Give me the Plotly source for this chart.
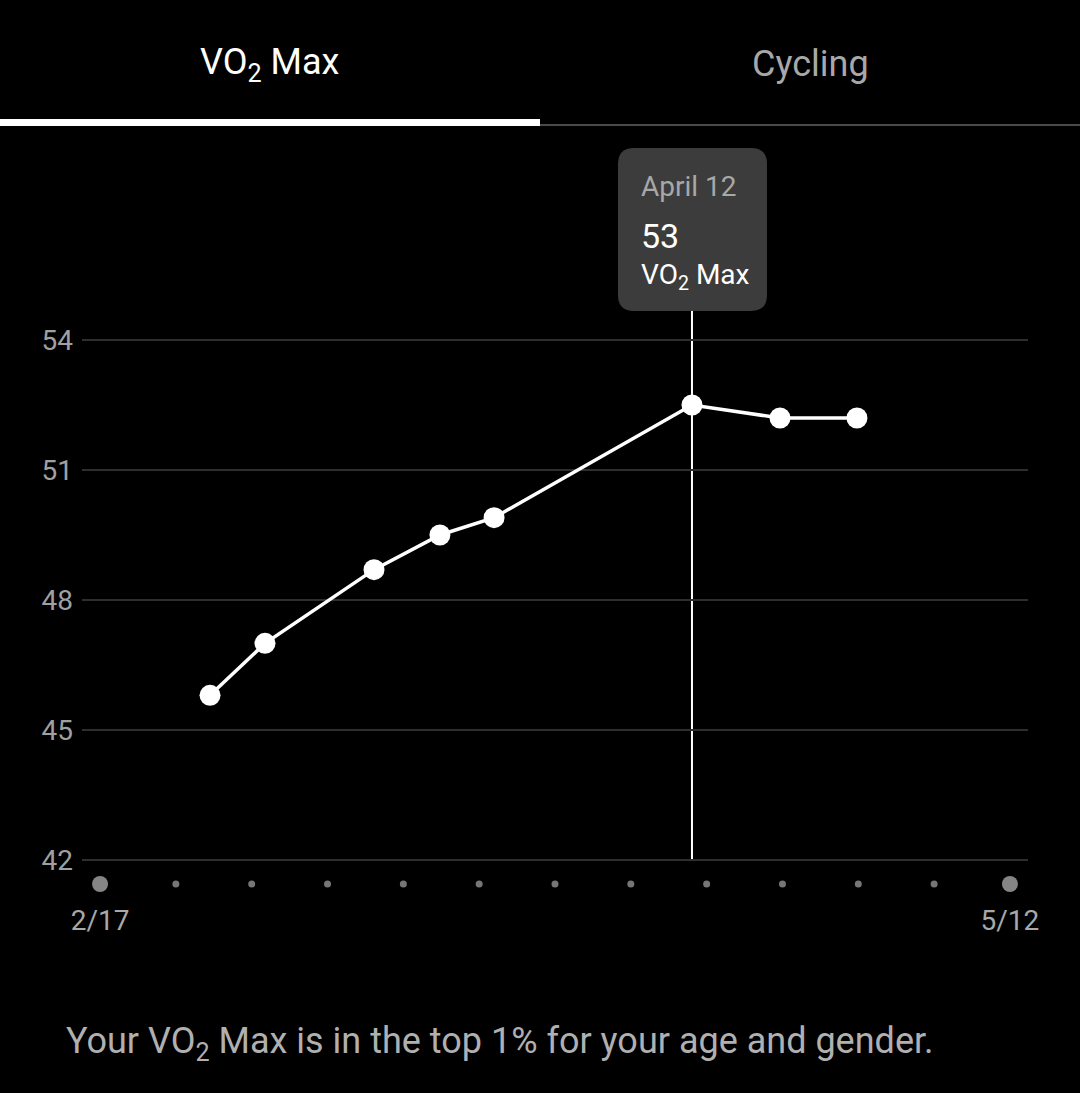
import plotly.graph_objects as go

# ---- data ----
dates = ["2023-02-27 03:40", "2023-03-04 05:30", "2023-03-14 07:00", "2023-03-20 09:00",
         "2023-03-25 09:00", "2023-04-12 15:30", "2023-04-20 18:30", "2023-04-27 21:00"]
vo2 = [45.8, 47.0, 48.7, 49.5, 49.9, 52.5, 52.2, 52.2]
week_marks = ["2023-02-17", "2023-02-24", "2023-03-03", "2023-03-10", "2023-03-17",
              "2023-03-24", "2023-03-31", "2023-04-07", "2023-04-14", "2023-04-21",
              "2023-04-28", "2023-05-05", "2023-05-12"]
y_ticks = [42, 45, 48, 51, 54]
x_tick_vals = ["2023-02-17", "2023-05-12"]
x_tick_text = ["2/17", "5/12"]
selected_idx = 5
selected_label = "April 12"
selected_value_text = "53"
tabs = ["VO<sub>2</sub> Max", "Cycling"]
footer = "Your VO<sub>2</sub> Max is in the top 1% for your age and gender."

# ---- layout geometry (pixels) ----
W, H = 1080, 1093
PL, PR, PT, PB = 82, 1028, 140, 895


def px(x):
    return (x - PL) / (PR - PL)


def py(y):
    return (PB - y) / (PB - PT)


FONT = "Roboto"
dot_y = 41.446

fig = go.Figure()

# week dots
sizes = [16] + [7] * (len(week_marks) - 2) + [16]
colors = ["#bdbdbd"] + ["#a8a8a8"] * (len(week_marks) - 2) + ["#bdbdbd"]
fig.add_trace(go.Scatter(x=week_marks, y=[dot_y] * len(week_marks), mode="markers",
                         marker=dict(size=sizes, color=colors, line=dict(width=0)),
                         hoverinfo="skip", showlegend=False, cliponaxis=False))

# main line
fig.add_trace(go.Scatter(x=dates, y=vo2, mode="lines+markers",
                         line=dict(color="white", width=3.5),
                         marker=dict(size=21, color="white", line=dict(width=0)),
                         showlegend=False, cliponaxis=False))

shapes = []
# vertical selection line
shapes.append(dict(type="line", xref="x", yref="paper", x0=dates[selected_idx], x1=dates[selected_idx],
                   y0=py(860), y1=py(305), line=dict(color="white", width=2), layer="below"))

# tooltip box (rounded)
x0, x1, y0, y1, r = 618, 767, 148, 311, 16
def P(x, y):
    return f"{px(x):.5f},{py(y):.5f}"
path = (f"M {P(x0 + r, y0)} L {P(x1 - r, y0)} Q {P(x1, y0)} {P(x1, y0 + r)} "
        f"L {P(x1, y1 - r)} Q {P(x1, y1)} {P(x1 - r, y1)} "
        f"L {P(x0 + r, y1)} Q {P(x0, y1)} {P(x0, y1 - r)} "
        f"L {P(x0, y0 + r)} Q {P(x0, y0)} {P(x0 + r, y0)} Z")
shapes.append(dict(type="path", xref="paper", yref="paper", path=path,
                   fillcolor="#3c3c3c", line=dict(width=0), layer="above"))

# tab underline
shapes.append(dict(type="rect", xref="paper", yref="paper", x0=px(0), x1=px(540),
                   y0=py(126), y1=py(119), fillcolor="white", line=dict(width=0)))
shapes.append(dict(type="rect", xref="paper", yref="paper", x0=px(540), x1=px(1080),
                   y0=py(126), y1=py(124), fillcolor="#4a4a4a", line=dict(width=0)))

annotations = [
    dict(text=tabs[0], x=px(270), y=py(64), xref="paper", yref="paper", showarrow=False,
         xanchor="center", yanchor="middle", font=dict(family=FONT, size=36, color="white")),
    dict(text=tabs[1], x=px(810), y=py(64), xref="paper", yref="paper", showarrow=False,
         xanchor="center", yanchor="middle", font=dict(family=FONT, size=36, color="#a8a8a8")),
    dict(text=selected_label, x=px(639), y=py(186), xref="paper", yref="paper", showarrow=False,
         xanchor="left", yanchor="middle", font=dict(family=FONT, size=28, color="#a8a8a8")),
    dict(text=selected_value_text, x=px(639), y=py(236), xref="paper", yref="paper", showarrow=False,
         xanchor="left", yanchor="middle", font=dict(family=FONT, size=34, color="white")),
    dict(text=tabs[0], x=px(639), y=py(276), xref="paper", yref="paper", showarrow=False,
         xanchor="left", yanchor="middle", font=dict(family=FONT, size=28, color="white")),
    dict(text=footer, x=px(64), y=py(1043), xref="paper", yref="paper", showarrow=False,
         xanchor="left", yanchor="middle", font=dict(family=FONT, size=36, color="#b0b0b0")),
]

fig.update_layout(
    width=W, height=H,
    margin=dict(l=PL, r=W - PR, t=PT, b=H - PB, pad=0),
    paper_bgcolor="black", plot_bgcolor="black",
    font=dict(family=FONT, color="#a0a0a0"),
    shapes=shapes, annotations=annotations,
    xaxis=dict(type="date", range=["2023-02-15 08:00", "2023-05-13 16:00"],
               tickvals=x_tick_vals, ticktext=x_tick_text, showgrid=False, zeroline=False,
               showline=False, ticks="", tickfont=dict(size=28, color="#a8a8a8"),
               ticklabelstandoff=6, fixedrange=True),
    yaxis=dict(range=[41.192, 58.615], tickvals=y_ticks, showgrid=True, gridcolor="#2e2e2e",
               gridwidth=2, zeroline=False, showline=False, ticks="",
               tickfont=dict(size=28, color="#a0a0a0"), ticklabelstandoff=8, fixedrange=True),
    hovermode=False,
)

fig.write_html("out.html", config={"displayModeBar": False},
               post_script="document.body.style.margin='0';document.body.style.background='black';")
